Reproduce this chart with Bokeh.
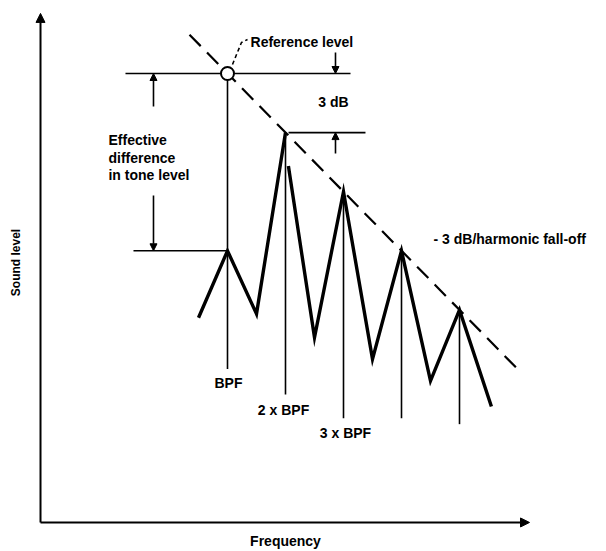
from math import pi
from bokeh.plotting import figure
from bokeh.models import Range1d, Arrow, NormalHead, Label
from bokeh.embed import file_html
from bokeh.resources import INLINE

# x: frequency in multiples of the blade passing frequency (BPF = 1)
# y: sound level in dB relative to the reference level (0 dB)

# tone spectrum, first branch (up to 2 x BPF peak)
spec1_h = [0.5, 1.0, 1.5, 2.0]
spec1_db = [-12.4, -9.0, -12.2, -3.0]
# tone spectrum, second branch (after the 2 x BPF peak)
spec2_h = [2.05, 2.5, 3.0, 3.5, 4.0, 4.5, 5.0, 5.55]
spec2_db = [-4.7, -13.4, -6.0, -14.5, -9.0, -15.6, -12.0, -16.9]

# harmonic marker lines
harm_h = [1, 2, 3, 4, 5]
harm_top_db = [0.0, -3.0, -6.0, -9.0, -12.0]
harm_bot_db = [-15.0, -16.3, -17.5, -17.5, -17.8]
harm_labels = ["BPF", "2 x BPF", "3 x BPF"]

# -3 dB / harmonic fall-off line
fall_h = [0.345, 6.02]
fall_db = [1.97, -15.06]

# reference level
ref_h = [1.0]
ref_db = [0.0]

# axis extents (frequency / sound level)
axis_h = [-2.224, 6.207]
axis_db = [-22.79, 3.05]

FONT = "Liberation Sans"

p = figure(width=606, height=551, output_backend="svg", toolbar_location=None,
           x_range=Range1d(-2.9138, 7.5345), y_range=Range1d(-24.264, 3.7056),
           x_axis_location=None, y_axis_location=None, min_border=0,
           background_fill_color="white", border_fill_color="white")
p.title = None
p.outline_line_color = None
p.xgrid.visible = False
p.ygrid.visible = False

# axes with arrow heads
p.add_layout(Arrow(end=NormalHead(size=9, fill_color="black", line_color="black"),
                   x_start=axis_h[0], y_start=axis_db[0], x_end=axis_h[0], y_end=axis_db[1],
                   line_width=2, line_color="black"))
p.add_layout(Arrow(end=NormalHead(size=9, fill_color="black", line_color="black"),
                   x_start=axis_h[0], y_start=axis_db[0], x_end=axis_h[1], y_end=axis_db[0],
                   line_width=2, line_color="black"))

# horizontal level lines
p.line([-0.759, 3.121], [ref_db[0], ref_db[0]], line_color="black", line_width=1.6)
p.line([2.052, 3.379], [harm_top_db[1], harm_top_db[1]], line_color="black", line_width=1.6)
p.line([-0.621, harm_h[0]], [spec1_db[1], spec1_db[1]], line_color="black", line_width=1.6)

# harmonic marker lines
p.segment(x0=harm_h, y0=harm_top_db, x1=harm_h, y1=harm_bot_db, line_color="black", line_width=1.6)

# fall-off line
p.line(fall_h, fall_db, line_color="black", line_width=2.2, line_dash="16 9")

# spectrum
p.line(spec1_h, spec1_db, line_color="black", line_width=3.4, line_join="miter")
p.line(spec2_h, spec2_db, line_color="black", line_width=3.4, line_join="miter")

# leader from reference point to its label
p.line([1.086, 1.241, 1.345], [0.457, 1.574, 1.726], line_color="black", line_width=1.6, line_dash="4 3")

# reference point
p.scatter(ref_h, ref_db, size=13, marker="circle", fill_color="white", line_color="black", line_width=2)

# dimension arrows
def darrow(x, y0, y1):
    p.add_layout(Arrow(end=NormalHead(size=7, fill_color="black", line_color="black"),
                       x_start=x, y_start=y0, x_end=x, y_end=y1,
                       line_width=1.6, line_color="black"))

darrow(2.862, 1.066, 0.0)
darrow(2.862, -4.061, -3.0)
darrow(-0.276, -1.675, 0.0)
darrow(-0.276, -6.19, -9.0)

def lab(x, y, t, align="left", size="14px", angle=0.0):
    p.add_layout(Label(x=x, y=y, text=t, text_font=FONT, text_font_size=size,
                       text_font_style="bold", text_align=align, text_baseline="middle",
                       text_color="black", angle=angle))

lab(1.397, 1.624, "Reference level")
lab(2.828, -1.472, "3 dB", align="center")
lab(-1.052, -3.401, "Effective")
lab(-1.052, -4.264, "difference")
lab(-1.052, -5.127, "in tone level")
lab(4.552, -8.376, "- 3 dB/harmonic fall-off")
lab(1.017, -15.736, harm_labels[0], align="center")
lab(1.966, -17.056, harm_labels[1], align="center")
lab(3.034, -18.274, harm_labels[2], align="center")
lab(2.0, -23.706, "Frequency", align="center")
lab(-2.638, -9.594, "Sound level", align="center", size="12px", angle=pi / 2)

open("out.html", "w").write(file_html(p, INLINE))
